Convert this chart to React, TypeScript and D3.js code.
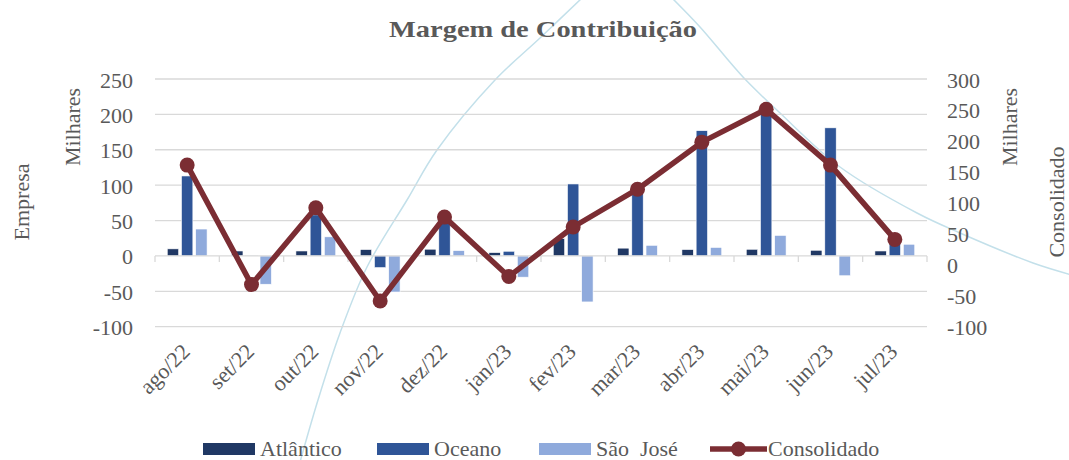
import React from 'react';
import * as d3 from 'd3';

const categories = ['ago/22', 'set/22', 'out/22', 'nov/22', 'dez/22', 'jan/23', 'fev/23', 'mar/23', 'abr/23', 'mai/23', 'jun/23', 'jul/23'];
const atlantico = [10, 7, 7, 9, 9.5, 4.7, 24.5, 11, 9, 9.4, 8, 7];
const oceano = [113, 1, 58, -16.5, 60, 6.6, 101.7, 96, 177, 212, 181, 17.5];
const saoJose = [38, -40, 27, -51, 7.5, -30, -65, 15, 12, 29, -28, 16.5];
const consolidado = [161, -32, 92, -58.5, 77, -19, 61, 122, 198, 251, 161, 41];
const leftTicks = [250, 200, 150, 100, 50, 0, -50, -100];
const rightTicks = [300, 250, 200, 150, 100, 50, 0, -50, -100];
const seriesNames = ['Atlântico', 'Oceano', 'São  José'];
const seriesColors = ['#203864', '#2f5597', '#8faadc'];
const lineColor = '#7b2d33';

// decorative background arcs (picture background)
const arcLeft: [number, number][] = [[300, 462], [318, 400], [340, 333], [367, 267], [407, 200], [437, 150], [495, 80], [540, 38], [582, -2]];
const arcRight: [number, number][] = [[672, -2], [700, 27], [743, 77], [780, 113], [840, 167], [917, 213], [960, 233], [1033, 263], [1072, 275]];

const W = 1069, H = 460;
const FONT = "'Liberation Serif', 'DejaVu Serif', serif";
const TXT = '#595959';

export default function App() {
  const x = d3.scaleBand<string>().domain(categories).range([155, 927]).padding(0);
  const yL = d3.scaleLinear().domain([-100, 250]).range([326.7, 79]);
  const yR = d3.scaleLinear().domain([-100, 300]).range([326.7, 79]);
  const bw = x.bandwidth();
  const barW = bw * 0.177;
  const step = bw * 0.221;
  const series = [atlantico, oceano, saoJose];
  const line = d3.line<number>().x((_, i) => (x(categories[i]) as number) + bw / 2).y(d => yR(d));
  const arc = d3.line<[number, number]>().curve(d3.curveCatmullRom);
  const ts = { fontFamily: FONT } as React.CSSProperties;

  return (
    <svg width={W} height={H} style={{ position: 'absolute', left: 0, top: 0, display: 'block', background: '#fff', fontFamily: FONT }}>
      <path d={arc(arcLeft) || ''} fill="none" stroke="#c3e0ea" strokeWidth={1.5} />
      <path d={arc(arcRight) || ''} fill="none" stroke="#c3e0ea" strokeWidth={1.5} />

      <text x={543} y={37} textAnchor="middle" fontSize={24} fontWeight="bold" fill={TXT} style={ts} textLength={308} lengthAdjust="spacingAndGlyphs">Margem de Contribuição</text>

      {leftTicks.filter(t => t !== 0).map(t => (
        <line key={t} x1={155} x2={927} y1={yL(t)} y2={yL(t)} stroke="#d9d9d9" strokeWidth={1.3} />
      ))}
      {leftTicks.map(t => (
        <text key={'l' + t} x={133} y={yL(t) + 1} textAnchor="end" dominantBaseline="central" fontSize={22} fill={TXT} style={ts}>{t}</text>
      ))}
      {rightTicks.map(t => (
        <text key={'r' + t} x={947} y={yR(t) + 1} textAnchor="start" dominantBaseline="central" fontSize={22} fill={TXT} style={ts}>{t}</text>
      ))}

      <text transform="translate(29,202) rotate(-90)" textAnchor="middle" fontSize={22} fill={TXT} style={ts}>Empresa</text>
      <text transform="translate(80,127) rotate(-90)" textAnchor="middle" fontSize={22} fill={TXT} style={ts}>Milhares</text>
      <text transform="translate(1017,127) rotate(-90)" textAnchor="middle" fontSize={22} fill={TXT} style={ts}>Milhares</text>
      <text transform="translate(1064,202) rotate(-90)" textAnchor="middle" fontSize={22} fill={TXT} style={ts}>Consolidado</text>

      {series.map((vals, s) => (
        <g key={s}>
          {vals.map((v, i) => {
            const cx = (x(categories[i]) as number) + bw / 2;
            const bx = cx + (s - 1) * step - barW / 2;
            const y0 = yL(0), y1 = yL(v);
            return <rect key={i} x={bx} y={Math.min(y0, y1)} width={barW} height={Math.abs(y1 - y0)} fill={seriesColors[s]} stroke="#ffffff" strokeWidth={0.6} />;
          })}
        </g>
      ))}

      <line x1={155} x2={927} y1={yL(0)} y2={yL(0)} stroke="#d9d9d9" strokeWidth={1.3} />
      {d3.range(categories.length + 1).map(i => {
        const tx = 155 + i * bw;
        return <line key={'t' + i} x1={tx} x2={tx} y1={yL(0)} y2={yL(0) + 6} stroke="#d9d9d9" strokeWidth={1.3} />;
      })}

      <path d={line(consolidado) || ''} fill="none" stroke={lineColor} strokeWidth={5.5} strokeLinejoin="round" />
      {consolidado.map((v, i) => (
        <circle key={i} cx={(x(categories[i]) as number) + bw / 2} cy={yR(v)} r={7.5} fill={lineColor} />
      ))}

      {categories.map(c => {
        const px = (x(c) as number) + bw / 2 + 4;
        return <text key={c} transform={`translate(${px},353) rotate(-45)`} textAnchor="end" fontSize={22} fill={TXT} style={ts}>{c}</text>;
      })}

      {seriesNames.map((n, s) => {
        const lx = [203, 377, 539][s];
        return (
          <g key={n}>
            <rect x={lx} y={443} width={52} height={12} fill={seriesColors[s]} />
            <text x={lx + 57} y={456} fontSize={22} fill={TXT} style={{ ...ts, whiteSpace: 'pre' }}>{n}</text>
          </g>
        );
      })}
      <line x1={710} x2={767} y1={449} y2={449} stroke={lineColor} strokeWidth={5.5} />
      <circle cx={738.5} cy={449} r={7.5} fill={lineColor} />
      <text x={768} y={456} fontSize={22} fill={TXT} style={ts}>Consolidado</text>
    </svg>
  );
}
